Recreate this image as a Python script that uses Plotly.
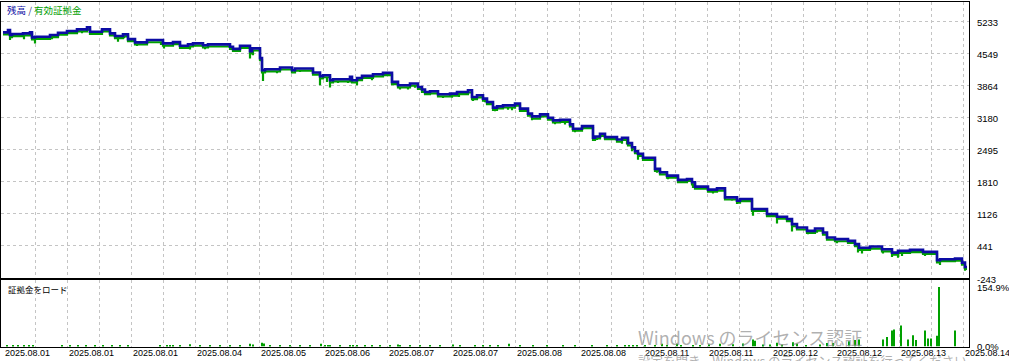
import plotly.graph_objects as go

# ---------------- data ----------------
step_deal = [0, 5, 7, 9, 20, 27, 29, 32, 47, 55,
             64, 74, 84, 87, 99, 107, 112, 120, 125, 132,
             144, 160, 170, 177, 185, 190, 200, 205, 227, 230,
             237, 247, 249, 257, 259, 262, 277, 289, 292, 310,
             317, 320, 327, 330, 347, 349, 354, 359, 370, 380,
             389, 395, 407, 415, 419, 422, 427, 435, 447, 454,
             465, 469, 474, 480, 484, 490, 494, 500, 512, 517,
             525, 529, 537, 545, 550, 557, 567, 570, 579, 590,
             592, 597, 602, 614, 619, 625, 629, 632, 635, 640,
             652, 657, 664, 675, 684, 689, 692, 705, 714, 722,
             734, 737, 749, 764, 774, 784, 789, 794, 804, 812,
             820, 824, 832, 845, 852, 856, 867, 879, 889, 895,
             907, 920, 934, 937, 952, 959, 962]
balance = [4990, 5040, 4934, 4955, 4970, 4991, 4884, 4897, 4934, 4983,
           5019, 5055, 5098, 5004, 5055, 4970, 4912, 4949, 4848, 4777,
           4827, 4756, 4784, 4705, 4735, 4756, 4715, 4735, 4683, 4640,
           4705, 4590, 4650, 4442, 4185, 4206, 4243, 4185, 4221, 4136,
           4057, 4078, 3971, 3992, 4042, 3971, 4020, 4063, 4099, 4127,
           3935, 3864, 3900, 3828, 3772, 3721, 3736, 3672, 3686, 3721,
           3757, 3614, 3650, 3580, 3507, 3387, 3415, 3436, 3473, 3366,
           3259, 3201, 3244, 3173, 3115, 3130, 3030, 2938, 2993, 2745,
           2773, 2831, 2758, 2709, 2745, 2630, 2544, 2459, 2403, 2318,
           2082, 2010, 1939, 1847, 1868, 1796, 1704, 1640, 1667, 1475,
           1404, 1441, 1227, 1120, 1062, 1013, 906, 833, 762, 812,
           726, 619, 585, 549, 478, 400, 427, 371, 298, 335,
           356, 313, 136, 157, 170, 84, -8]
equity = [4950, 4995, 4890, 4910, 4925, 4945, 4840, 4850, 4890, 4940,
          4975, 5010, 5050, 4960, 5010, 4925, 4870, 4905, 4805, 4735,
          4780, 4710, 4740, 4660, 4690, 4710, 4670, 4690, 4640, 4595,
          4660, 4545, 4605, 4400, 4140, 4160, 4200, 4140, 4175, 4090,
          4010, 4035, 3925, 3945, 4000, 3925, 3975, 4020, 4055, 4080,
          3890, 3820, 3855, 3785, 3725, 3675, 3690, 3625, 3640, 3675,
          3710, 3570, 3605, 3535, 3460, 3340, 3370, 3390, 3430, 3320,
          3215, 3155, 3200, 3130, 3070, 3085, 2985, 2895, 2950, 2700,
          2730, 2785, 2715, 2665, 2700, 2585, 2500, 2415, 2360, 2275,
          2040, 1965, 1895, 1800, 1825, 1750, 1660, 1595, 1620, 1430,
          1360, 1395, 1185, 1075, 1020, 970, 860, 790, 720, 765,
          680, 575, 540, 505, 435, 355, 385, 325, 255, 290,
          310, 270, 90, 115, 125, 40, -50]
last_deal = 964

dip_deal = [7, 21, 32, 49, 79, 115, 121, 134, 158, 161, 170, 187, 202, 232, 237,
            247, 250, 260, 274, 277, 285, 297, 317, 324, 327, 335, 345, 354, 359,
            369, 394, 397, 405, 412, 427, 440, 449, 456, 470, 482, 492, 505, 509,
            512, 529, 552, 562, 572, 579, 594, 619, 624, 629, 635, 654, 665, 690,
            710, 729, 734, 750, 774, 789, 805, 814, 834, 855, 859, 880, 889, 895,
            899, 922, 927, 937, 962]
dip_low = [4827, 4842, 4756, 4842, 4970, 4790, 4863, 4700, 4720, 4649, 4720, 4628, 4630, 4576, 4598,
           4435, 4506, 3956, 4120, 4149, 4185, 4149, 3864, 3935, 3815, 3913, 3913, 3864, 3956,
           3971, 3864, 3772, 3772, 3810, 3650, 3590, 3600, 3614, 3530, 3500, 3308, 3344, 3329,
           3366, 3120, 3035, 3030, 2860, 2917, 2700, 2617, 2602, 2460, 2275, 2000, 1860, 1676,
           1560, 1404, 1333, 1083, 919, 748, 690, 720, 500, 299, 277, 280, 206, 191,
           228, 228, 249, 35, -90]

load_deal = [4, 10, 15, 21, 26, 30, 59, 67, 75, 83, 92, 100, 109, 117, 125,
             157, 164, 167, 170, 177, 187, 197, 207, 217, 227, 237, 247, 250, 259, 261,
             267, 277, 287, 297, 307, 318, 322, 325, 327, 337, 347, 350, 354, 362, 369,
             377, 387, 395, 397, 407, 417, 427, 437, 450, 457, 472, 480, 487, 495, 506,
             517, 530, 544, 560, 572, 589, 604, 614, 622, 626, 630, 634, 642, 652, 659,
             664, 674, 678, 690, 697, 706, 717, 730, 740, 750, 752, 760, 767, 774, 779,
             790, 794, 803, 817, 824, 830, 846, 852, 856, 880, 884, 889, 891, 898, 905,
             910, 913, 922, 925, 928, 934, 936, 952]
load_pct = [2.5, 2.5, 2.5, 2.5, 2.5, 2.5, 2, 2, 2, 2, 2, 2, 2, 2, 2,
            2.5, 3, 4, 4, 2, 6, 2, 2, 2, 2, 2, 7, 5, 10, 8,
            2, 2, 2, 2, 2, 7, 4, 4, 4, 2, 4, 4, 4, 2, 4,
            2, 2, 5, 4, 2, 2, 2, 2, 5, 2, 2, 2, 2, 2, 7,
            2, 2, 2, 2, 2, 4, 4, 4, 4, 4, 4, 4, 2, 2, 7,
            4, 7, 4, 4, 2, 6, 7, 6, 8, 18, 15, 5, 5, 10, 5,
            11, 8, 2, 5, 9, 9, 14, 17, 18, 18, 25, 42, 44, 55, 18,
            29, 17, 42, 21, 21, 28, 154.9, 42]

date_deal = [0, 64, 128, 192, 256, 320, 384, 448, 512, 576, 640, 704, 768, 832, 896, 960]
date_label = ["2025.08.01", "2025.08.01", "2025.08.01", "2025.08.04", "2025.08.05",
              "2025.08.06", "2025.08.07", "2025.08.07", "2025.08.08", "2025.08.08",
              "2025.08.11", "2025.08.11", "2025.08.12", "2025.08.12", "2025.08.13",
              "2025.08.14"]
grid_deal = [32 * k for k in range(1, 31)]
money_ticks = [-243, 441, 1126, 1810, 2495, 3180, 3864, 4549, 5233]
money_labels = ["-243", "441", "1126", "1810", "2495", "3180", "3864", "4549", "5233"]
load_ticks = [0, 154.9]
load_labels = ["0.0%", "154.9%"]

# ---------------- build ----------------
BLUE = "#0c0ca4"
GREEN = "#00a000"
W, H = 1009, 361

ex, ey = [], []
n = len(step_deal)
for i in range(n):
    x0 = step_deal[i]
    x1 = step_deal[i + 1] if i + 1 < n else last_deal
    lvl = equity[i]
    ex.append(x0); ey.append(lvl)
    for dx, dl in zip(dip_deal, dip_low):
        if x0 <= dx < x1:
            ex += [dx, dx, dx]
            ey += [lvl, dl, lvl]
    ex.append(x1); ey.append(lvl)

bx = step_deal + [last_deal]
by = balance + [balance[-1]]

fig = go.Figure()
fig.add_trace(go.Scatter(x=ex, y=ey, mode="lines", line=dict(color=GREEN, width=2.2),
                         hoverinfo="skip", xaxis="x", yaxis="y"))
fig.add_trace(go.Scatter(x=bx, y=by, mode="lines", line=dict(color=BLUE, width=2.6, shape="hv"),
                         hoverinfo="skip", xaxis="x", yaxis="y"))
fig.add_trace(go.Bar(x=load_deal, y=load_pct, width=2, marker=dict(color=GREEN, line=dict(width=0)),
                     hoverinfo="skip", xaxis="x2", yaxis="y2"))

def py(p):
    return 1 - p / H

xdom = [1 / W, 969 / W]
xrange_ = [-2, 966]
grid_common = dict(showgrid=True, gridcolor="#c4c4c4", griddash="3px,3px", gridwidth=1,
                   zeroline=False, showticklabels=False, ticks="",
                   showline=True, mirror=True, linecolor="black", linewidth=1)

fig.update_layout(
    width=W, height=H, autosize=False,
    margin=dict(l=0, r=0, t=0, b=0),
    paper_bgcolor="white", plot_bgcolor="white",
    showlegend=False,
    xaxis=dict(domain=xdom, range=xrange_, tickmode="array", tickvals=grid_deal,
               anchor="y", **grid_common),
    yaxis=dict(domain=[py(278), py(2)], range=[-243, 5638], tickmode="array",
               tickvals=money_ticks, anchor="x", **grid_common),
    xaxis2=dict(domain=xdom, range=xrange_, tickmode="array", tickvals=grid_deal,
                anchor="y2", **grid_common),
    yaxis2=dict(domain=[py(346.5), py(280)], range=[0, 173.3], anchor="x2",
                showgrid=False, zeroline=False, showticklabels=False, ticks="",
                showline=True, mirror=True, linecolor="black", linewidth=1),
)

ann = []
lab_font = dict(family="Liberation Sans, Arial, sans-serif", size=9.5, color="black")
date_font = dict(family="Liberation Sans, Arial, sans-serif", size=9, color="black")
for d, t in zip(date_deal, date_label):
    ann.append(dict(x=d, xref="x", y=py(353), yref="paper", text=t, showarrow=False,
                    xanchor="left", yanchor="middle", font=date_font))
for v, t in zip(money_ticks, money_labels):
    ann.append(dict(x=975 / W, xref="paper", y=v, yref="y", text=t, showarrow=False,
                    xanchor="left", yanchor="middle", yshift=-1, font=lab_font))
for v, t in zip(load_ticks, load_labels):
    ann.append(dict(x=975 / W, xref="paper", y=v, yref="y2", text=t, showarrow=False,
                    xanchor="left", yanchor="middle", font=lab_font))

cjk = "Noto Sans CJK JP"
ann.append(dict(x=5 / W, xref="paper", y=py(10), yref="paper",
                text=f"<span style='color:{BLUE}'>残高</span><span style='color:#404080'> / </span>"
                     f"<span style='color:{GREEN}'>有効証拠金</span>",
                showarrow=False, xanchor="left", yanchor="middle",
                font=dict(family=cjk, size=9.5)))
ann.append(dict(x=6 / W, xref="paper", y=py(289), yref="paper", text="証拠金をロード",
                showarrow=False, xanchor="left", yanchor="middle",
                font=dict(family=cjk, size=8.5, color="black")))
# OS activation watermark visible over the chart
ann.append(dict(x=636 / W, xref="paper", y=py(337), yref="paper", text="Windows のライセンス認証",
                showarrow=False, xanchor="left", yanchor="middle",
                font=dict(family=cjk, size=18, color="rgba(150,150,150,0.75)")))
ann.append(dict(x=636 / W, xref="paper", y=py(360), yref="paper",
                text="設定を開き、Windows のライセンス認証を行ってください。",
                showarrow=False, xanchor="left", yanchor="middle",
                font=dict(family=cjk, size=12.5, color="rgba(150,150,150,0.75)")))
fig.update_layout(annotations=ann)

fig.write_html("out.html")
